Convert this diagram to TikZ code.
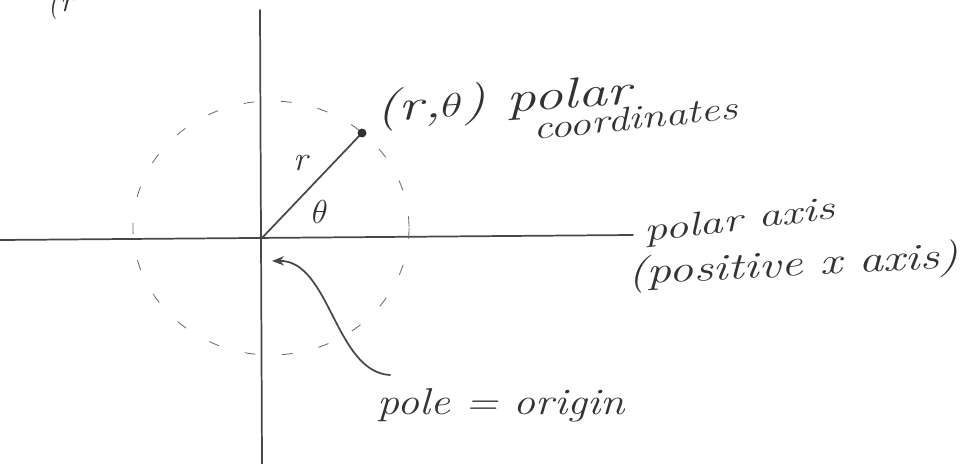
\documentclass[tikz,border=0pt]{standalone}
\usetikzlibrary{arrows.meta}
\begin{document}
\begin{tikzpicture}[x=0.75pt,y=-0.75pt,
  ink/.style={draw=black!72, line width=1.3pt, line cap=round},
  thinink/.style={draw=black!60, line width=0.6pt, dash pattern=on 8pt off 20pt},
  hand/.style={text=black!80, font=\fontsize{24}{27}\selectfont\itshape, inner sep=0pt}]
\useasboundingbox (0,0) rectangle (964,464);
% axes
\coordinate (O) at (262,238);
\coordinate (ytop) at (260,10);
\coordinate (ybot) at (262,464);
\coordinate (xl) at (0,240);
\coordinate (xr) at (633,235);
\draw[ink] (ytop) -- (ybot);
\draw[ink] (xl) -- (xr);
% dashed circle
\draw[thinink] (271,228) ellipse [x radius=138, y radius=127];
% point and radius
\coordinate (P) at (362,133);
\draw[ink] (O) -- (P);
\fill[black!80] (P) circle (4.5);
% labels
\node[hand, anchor=base west, rotate=4, xscale=1.38,
      font=\fontsize{32}{35}\selectfont\itshape] (lblpt) at (376,122) {(r,$\theta$) polar};
\node[hand, anchor=base west, rotate=6, xscale=1.3,
      font=\fontsize{25}{28}\selectfont\itshape] (lblco) at (534,140) {coordinates};
\node[hand, font=\fontsize{26}{29}\selectfont\itshape] (lblr) at (301,163) {r};
\node[hand, font=\fontsize{30}{33}\selectfont] (lbltheta) at (320,212) {$\theta$};
\node[hand, anchor=base west, rotate=7, xscale=1.4,
      font=\fontsize{25}{28}\selectfont\itshape] (lblax) at (645,242) {polar axis};
\node[hand, anchor=base west, rotate=3, xscale=1.31,
      font=\fontsize{28}{31}\selectfont\itshape] (lblpos) at (628,285) {(positive x axis)};
\node[hand, anchor=base west, xscale=1.18,
      font=\fontsize{28}{31}\selectfont\itshape] (lblpole) at (377,414) {pole = origin};
\node[hand, anchor=base west] (frag) at (47,12) {(r};
% arrow to pole
\coordinate (tail) at (390,375);
\coordinate (tip) at (272,261);
\draw[ink, -{Stealth[length=9pt,width=7pt]}] (tail)
  .. controls (335,372) and (330,260) .. (tip);
\end{tikzpicture}
\end{document}
